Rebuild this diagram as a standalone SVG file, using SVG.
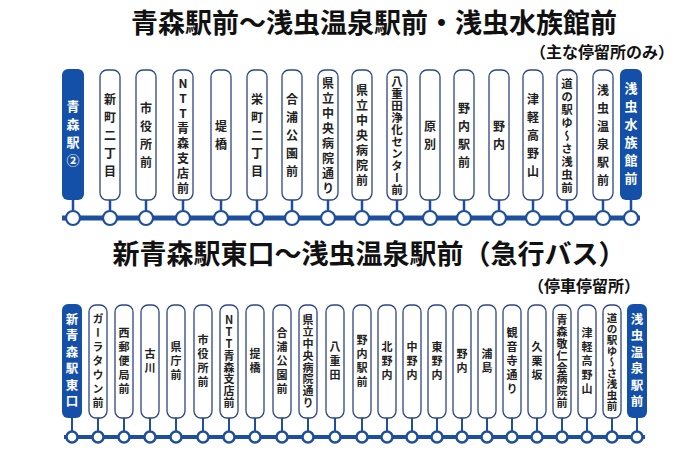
<svg xmlns="http://www.w3.org/2000/svg" width="699" height="466" viewBox="0 0 699 466">
<style>
text{font-family:"Noto Sans CJK JP","Noto Sans",sans-serif;font-weight:bold}
.t{font-size:27px;fill:#111}
.s{font-size:16px;fill:#111}
.b{fill:#fff;stroke:#2d4686;stroke-width:1.3}
.e{fill:#1450a8}
.v{writing-mode:vertical-rl;text-orientation:upright;text-anchor:middle;dominant-baseline:central;fill:#222}
.a{font-size:12px;letter-spacing:6px}
.a2{font-size:12px;letter-spacing:3px}
.a4{font-size:11.5px;letter-spacing:1.5px}
.a3{font-size:11.5px;letter-spacing:0.5px}
.w{font-size:13px;letter-spacing:5px;fill:#fff}
.c{font-size:11px;letter-spacing:3px}
.c2{font-size:11px;letter-spacing:0.8px}
.c3{font-size:10.5px;letter-spacing:0.5px}
.we{font-size:12.5px;letter-spacing:4px;fill:#fff}
.ln{stroke:#1d4f9e;fill:none}
.dot{fill:#fff;stroke:#1d4f9e}
</style>
<text class="t" x="374" y="33" text-anchor="middle">青森駅前〜浅虫温泉駅前・浅虫水族館前</text>
<text class="s" x="674" y="58" text-anchor="end">（主な停留所のみ）</text>
<text class="t" x="369" y="264" text-anchor="middle">新青森駅東口〜浅虫温泉駅前（急行バス）</text>
<text class="s" x="640" y="292" text-anchor="end">（停車停留所）</text>
<g id="connectors">
<line class="ln" x1="62" y1="218" x2="640" y2="218" stroke-width="5"/>
<g class="ln" stroke-width="2.5">
<path d="M73 200V212M110 200V212M146 200V212M183 200V212M221 200V212M257 200V212M292 200V212M328 200V212M362 200V212M397 200V212M430 200V212M464 200V212M499 200V212M533 200V212M567 200V212M603 200V212M631 200V212"/>
</g>
<line class="ln" x1="64" y1="437" x2="645" y2="437" stroke-width="4"/>
<path class="ln" stroke-width="2" d="M72 418V432M98 418V432M124 418V432M150 418V432M176 418V432M203 418V432M229 418V432M255 418V432M282 418V432M308 418V432M335 418V432M362 418V432M387 418V432M412 418V432M437 418V432M462 418V432M487 418V432M512 418V432M537 418V432M562 418V432M587 418V432M612 418V432M637 418V432"/>
</g>
<g stroke-width="2.2">
<circle class="dot" cx="73" cy="218" r="7"/><circle class="dot" cx="110" cy="218" r="7"/><circle class="dot" cx="146" cy="218" r="7"/><circle class="dot" cx="183" cy="218" r="7"/><circle class="dot" cx="221" cy="218" r="7"/><circle class="dot" cx="257" cy="218" r="7"/><circle class="dot" cx="292" cy="218" r="7"/><circle class="dot" cx="328" cy="218" r="7"/><circle class="dot" cx="362" cy="218" r="7"/><circle class="dot" cx="397" cy="218" r="7"/><circle class="dot" cx="430" cy="218" r="7"/><circle class="dot" cx="464" cy="218" r="7"/><circle class="dot" cx="499" cy="218" r="7"/><circle class="dot" cx="533" cy="218" r="7"/><circle class="dot" cx="567" cy="218" r="7"/><circle class="dot" cx="603" cy="218" r="7"/><circle class="dot" cx="631" cy="218" r="7"/>
</g>
<g stroke-width="2.5">
<circle class="dot" cx="72" cy="437" r="5.5"/><circle class="dot" cx="98" cy="437" r="5.5"/><circle class="dot" cx="124" cy="437" r="5.5"/><circle class="dot" cx="150" cy="437" r="5.5"/><circle class="dot" cx="176" cy="437" r="5.5"/><circle class="dot" cx="203" cy="437" r="5.5"/><circle class="dot" cx="229" cy="437" r="5.5"/><circle class="dot" cx="255" cy="437" r="5.5"/><circle class="dot" cx="282" cy="437" r="5.5"/><circle class="dot" cx="308" cy="437" r="5.5"/><circle class="dot" cx="335" cy="437" r="5.5"/><circle class="dot" cx="362" cy="437" r="5.5"/><circle class="dot" cx="387" cy="437" r="5.5"/><circle class="dot" cx="412" cy="437" r="5.5"/><circle class="dot" cx="437" cy="437" r="5.5"/><circle class="dot" cx="462" cy="437" r="5.5"/><circle class="dot" cx="487" cy="437" r="5.5"/><circle class="dot" cx="512" cy="437" r="5.5"/><circle class="dot" cx="537" cy="437" r="5.5"/><circle class="dot" cx="562" cy="437" r="5.5"/><circle class="dot" cx="587" cy="437" r="5.5"/><circle class="dot" cx="612" cy="437" r="5.5"/><circle class="dot" cx="637" cy="437" r="5.5"/>
</g>
<g id="n1"><rect class="e" x="62" y="69" width="22" height="131" rx="6"/><text class="v w" x="73" y="136">青森駅②</text></g>
<g id="n2"><rect class="b" x="100" y="70" width="20" height="130" rx="7"/><text class="v a" x="110" y="138">新町二丁目</text></g>
<g id="n3"><rect class="b" x="136" y="70" width="20" height="130" rx="7"/><text class="v a" x="146" y="138">市役所前</text></g>
<g id="n4"><rect class="b" x="173" y="70" width="20" height="130" rx="7"/><text class="v a2" x="183" y="137">NTT青森支店前</text></g>
<g id="n5"><rect class="b" x="211" y="70" width="20" height="130" rx="7"/><text class="v a" x="221" y="138">堤橋</text></g>
<g id="n6"><rect class="b" x="247" y="70" width="20" height="130" rx="7"/><text class="v a" x="257" y="138">栄町二丁目</text></g>
<g id="n7"><rect class="b" x="282" y="70" width="20" height="130" rx="7"/><text class="v a" x="292" y="138">合浦公園前</text></g>
<g id="n8"><rect class="b" x="318" y="70" width="20" height="130" rx="7"/><text class="v a2" x="328" y="137">県立中央病院通り</text></g>
<g id="n9"><rect class="b" x="352" y="70" width="20" height="130" rx="7"/><text class="v a2" x="362" y="137">県立中央病院前</text></g>
<g id="n10"><rect class="b" x="387" y="70" width="20" height="130" rx="7"/><text class="v a3" x="397" y="136">八重田浄化センター前</text></g>
<g id="n11"><rect class="b" x="420" y="70" width="20" height="130" rx="7"/><text class="v a" x="430" y="138">原別</text></g>
<g id="n12"><rect class="b" x="454" y="70" width="20" height="130" rx="7"/><text class="v a" x="464" y="138">野内駅前</text></g>
<g id="n13"><rect class="b" x="489" y="70" width="20" height="130" rx="7"/><text class="v a" x="499" y="138">野内</text></g>
<g id="n14"><rect class="b" x="523" y="70" width="20" height="130" rx="7"/><text class="v a" x="533" y="138">津軽高野山</text></g>
<g id="n15"><rect class="b" x="557" y="70" width="20" height="130" rx="7"/><text class="v a4" x="567" y="136">道の駅ゆ〜さ浅虫前</text></g>
<g id="n16"><rect class="b" x="593" y="70" width="20" height="130" rx="7"/><text class="v a" x="603" y="138">浅虫温泉駅前</text></g>
<g id="n17"><rect class="e" x="620" y="69" width="22" height="131" rx="6"/><text class="v w" x="631" y="136">浅虫水族館前</text></g>
<g id="m1"><rect class="e" x="62" y="304" width="20" height="114" rx="6"/><text class="v we" x="72" y="362">新青森駅東口</text></g>
<g id="m2"><rect class="b" x="89" y="305" width="18" height="113" rx="7"/><text class="v c" x="98" y="362">ガーラタウン前</text></g>
<g id="m3"><rect class="b" x="115" y="305" width="18" height="113" rx="7"/><text class="v c" x="124" y="362">西郵便局前</text></g>
<g id="m4"><rect class="b" x="141" y="305" width="18" height="113" rx="7"/><text class="v c" x="150" y="362">古川</text></g>
<g id="m5"><rect class="b" x="167" y="305" width="18" height="113" rx="7"/><text class="v c" x="176" y="362">県庁前</text></g>
<g id="m6"><rect class="b" x="194" y="305" width="18" height="113" rx="7"/><text class="v c" x="203" y="362">市役所前</text></g>
<g id="m7"><rect class="b" x="220" y="305" width="18" height="113" rx="7"/><text class="v c2" x="229" y="362">NTT青森支店前</text></g>
<g id="m8"><rect class="b" x="246" y="305" width="18" height="113" rx="7"/><text class="v c" x="255" y="362">提橋</text></g>
<g id="m9"><rect class="b" x="273" y="305" width="18" height="113" rx="7"/><text class="v c" x="282" y="362">合浦公園前</text></g>
<g id="m10"><rect class="b" x="299" y="305" width="18" height="113" rx="7"/><text class="v c2" x="308" y="362">県立中央病院通り</text></g>
<g id="m11"><rect class="b" x="326" y="305" width="18" height="113" rx="7"/><text class="v c" x="335" y="362">八重田</text></g>
<g id="m12"><rect class="b" x="353" y="305" width="18" height="113" rx="7"/><text class="v c" x="362" y="362">野内駅前</text></g>
<g id="m13"><rect class="b" x="378" y="305" width="18" height="113" rx="7"/><text class="v c" x="387" y="362">北野内</text></g>
<g id="m14"><rect class="b" x="403" y="305" width="18" height="113" rx="7"/><text class="v c" x="412" y="362">中野内</text></g>
<g id="m15"><rect class="b" x="428" y="305" width="18" height="113" rx="7"/><text class="v c" x="437" y="362">東野内</text></g>
<g id="m16"><rect class="b" x="453" y="305" width="18" height="113" rx="7"/><text class="v c" x="462" y="362">野内</text></g>
<g id="m17"><rect class="b" x="478" y="305" width="18" height="113" rx="7"/><text class="v c" x="487" y="362">浦島</text></g>
<g id="m18"><rect class="b" x="503" y="305" width="18" height="113" rx="7"/><text class="v c" x="512" y="362">観音寺通り</text></g>
<g id="m19"><rect class="b" x="528" y="305" width="18" height="113" rx="7"/><text class="v c" x="537" y="362">久栗坂</text></g>
<g id="m20"><rect class="b" x="553" y="305" width="18" height="113" rx="7"/><text class="v c2" x="562" y="362">青森敬仁会病院前</text></g>
<g id="m21"><rect class="b" x="578" y="305" width="18" height="113" rx="7"/><text class="v c" x="587" y="362">津軽高野山</text></g>
<g id="m22"><rect class="b" x="603" y="305" width="18" height="113" rx="7"/><text class="v c3" x="612" y="362">道の駅ゆ〜さ浅虫前</text></g>
<g id="m23"><rect class="e" x="627" y="304" width="20" height="114" rx="6"/><text class="v we" x="637" y="362">浅虫温泉駅前</text></g>
</svg>
